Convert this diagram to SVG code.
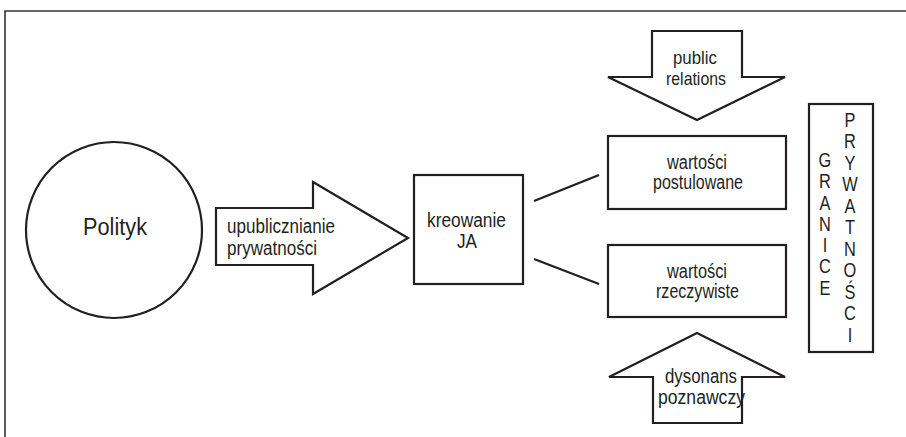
<svg xmlns="http://www.w3.org/2000/svg" width="906" height="437" viewBox="0 0 906 437">
<style>
.s{fill:#fff;stroke:#231f20;stroke-width:2.2;stroke-linejoin:miter}
.l{fill:none;stroke:#231f20;stroke-width:2.2}
.f{fill:none;stroke:#333;stroke-width:1.6}
text{font-family:"Liberation Sans",Arial,sans-serif;fill:#231f20;font-size:20px}
.v{font-size:20px;text-anchor:middle}
.sm{font-size:19px}
</style>
<rect width="906" height="437" fill="#fff"/>
<g id="frame">
<path class="f" d="M5,437 V11 H906"/>
</g>
<g id="connectors">
<line class="l" x1="534" y1="201" x2="599" y2="175"/>
<line class="l" x1="534" y1="259" x2="599" y2="284"/>
</g>
<g id="polityk">
<circle class="s" cx="114" cy="230" r="88"/>
<text x="83" y="235" textLength="64" lengthAdjust="spacingAndGlyphs" style="font-size:23px">Polityk</text>
</g>
<g id="upublicznianie">
<polygon class="s" points="216,208 313,208 313,182 408,238 313,294 313,265 216,265"/>
<text x="227" y="233" textLength="108" lengthAdjust="spacingAndGlyphs">upublicznianie</text>
<text x="227" y="255" textLength="90" lengthAdjust="spacingAndGlyphs">prywatności</text>
</g>
<g id="kreowanie">
<rect class="s" x="414" y="175" width="109" height="109"/>
<text x="427" y="227" textLength="79" lengthAdjust="spacingAndGlyphs">kreowanie</text>
<text x="457" y="248" textLength="20" lengthAdjust="spacingAndGlyphs">JA</text>
</g>
<g id="public-relations">
<polygon class="s" points="652,31 742,31 742,77 785,77 697,120 608,77 652,77"/>
<text class="sm" x="673" y="64" textLength="44" lengthAdjust="spacingAndGlyphs">public</text>
<text class="sm" x="666" y="85" textLength="60" lengthAdjust="spacingAndGlyphs">relations</text>
</g>
<g id="wartosci-postulowane">
<rect class="s" x="608" y="136" width="178" height="73"/>
<text x="667" y="169" textLength="60" lengthAdjust="spacingAndGlyphs">wartości</text>
<text x="653" y="189" textLength="90" lengthAdjust="spacingAndGlyphs">postulowane</text>
</g>
<g id="wartosci-rzeczywiste">
<rect class="s" x="608" y="245" width="178" height="72"/>
<text x="667" y="278" textLength="60" lengthAdjust="spacingAndGlyphs">wartości</text>
<text x="656" y="298" textLength="83" lengthAdjust="spacingAndGlyphs">rzeczywiste</text>
</g>
<g id="dysonans">
<polygon class="s" points="697,333 785,377 742,377 742,423 653,423 653,377 609,377"/>
<text x="665" y="383" textLength="72" lengthAdjust="spacingAndGlyphs">dysonans</text>
<text x="658" y="404" textLength="87" lengthAdjust="spacingAndGlyphs">poznawczy</text>
</g>
<g id="granice-prywatnosci">
<rect class="s" x="809" y="104" width="64" height="248"/>
<g transform="translate(825,0) scale(0.82,1)">
<text class="v" x="0" y="167">G</text>
<text class="v" x="0" y="188.3">R</text>
<text class="v" x="0" y="209.6">A</text>
<text class="v" x="0" y="230.9">N</text>
<text class="v" x="0" y="252.2">I</text>
<text class="v" x="0" y="273.5">C</text>
<text class="v" x="0" y="294.8">E</text>
</g>
<g transform="translate(850,0) scale(0.82,1)">
<text class="v" x="0" y="127">P</text>
<text class="v" x="0" y="148.5">R</text>
<text class="v" x="0" y="170">Y</text>
<text class="v" x="0" y="191.5">W</text>
<text class="v" x="0" y="213">A</text>
<text class="v" x="0" y="234.5">T</text>
<text class="v" x="0" y="256">N</text>
<text class="v" x="0" y="277.5">O</text>
<text class="v" x="0" y="299">Ś</text>
<text class="v" x="0" y="320.5">C</text>
<text class="v" x="0" y="342">I</text>
</g>
</g>
</svg>
